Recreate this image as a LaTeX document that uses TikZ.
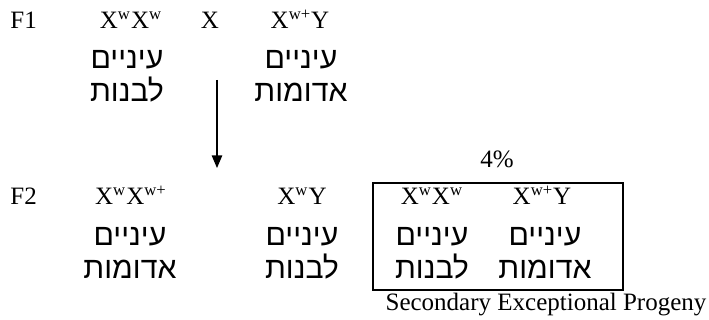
\documentclass[tikz,border=0pt]{standalone}
\usepackage{fontspec}
\setmainfont{Liberation Serif}
\newfontfamily\hebfont[Script=Hebrew]{Liberation Sans}
\TeXXeTstate=1
\usetikzlibrary{positioning,arrows.meta}
\tikzset{
  gen/.style={anchor=base,inner sep=0pt,font=\fontsize{12}{14}\selectfont},
  eyes/.style={anchor=base,inner sep=0pt,align=center,
    font=\hebfont\fontsize{14.5}{16}\selectfont},
  fl/.style={-{Triangle[length=6pt,width=5pt]},line width=0.5pt},
  rare/.style={draw,line width=0.8pt,minimum width=120pt,minimum height=51.4pt,inner sep=0pt},
}
\newcommand{\eyeswhite}{\beginR עיניים\endR\\\beginR לבנות\endR}
\newcommand{\eyesred}{\beginR עיניים\endR\\\beginR אדומות\endR}

\begin{document}
\begin{tikzpicture}[x=0.48pt,y=-0.48pt]
  \useasboundingbox (0,0) rectangle (709,320);
  % F1
  \node[gen,anchor=base west] (f1) at (10,29) {F1};
  \node[gen] (p1) at (131,29) {X\textsuperscript{w}X\textsuperscript{w}};
  \node[gen] (cross) at (210,29) {X};
  \node[gen] (p2) at (300,29) {X\textsuperscript{w+}Y};
  \node[eyes] (p1e) at (127,102) {\eyeswhite};
  \node[eyes] (p2e) at (301,102) {\eyesred};
  \coordinate (a1) at (217,80);
  \coordinate (a2) at (217,168);
  \draw[fl] (a1) -- (a2);
  % F2
  \node[gen,anchor=base west] (f2) at (10,205) {F2};
  \node[gen] (c1) at (131,205) {X\textsuperscript{w}X\textsuperscript{w+}};
  \node[gen] (c2) at (302,205) {X\textsuperscript{w}Y};
  \node[eyes] (c1e) at (130,279) {\eyesred};
  \node[eyes] (c2e) at (302,279) {\eyeswhite};
  % exceptional progeny
  \node[rare] (box) at (498,236.5) {};
  \node[gen] (pct) at (497,168) {4\%};
  \node[gen] (c3) at (432,205) {X\textsuperscript{w}X\textsuperscript{w}};
  \node[gen] (c4) at (542,205) {X\textsuperscript{w+}Y};
  \node[eyes] (c3e) at (432,279) {\eyeswhite};
  \node[eyes] (c4e) at (545,279) {\eyesred};
  \node[gen] (sep) at (546,311) {Secondary Exceptional Progeny};
\end{tikzpicture}
\end{document}
